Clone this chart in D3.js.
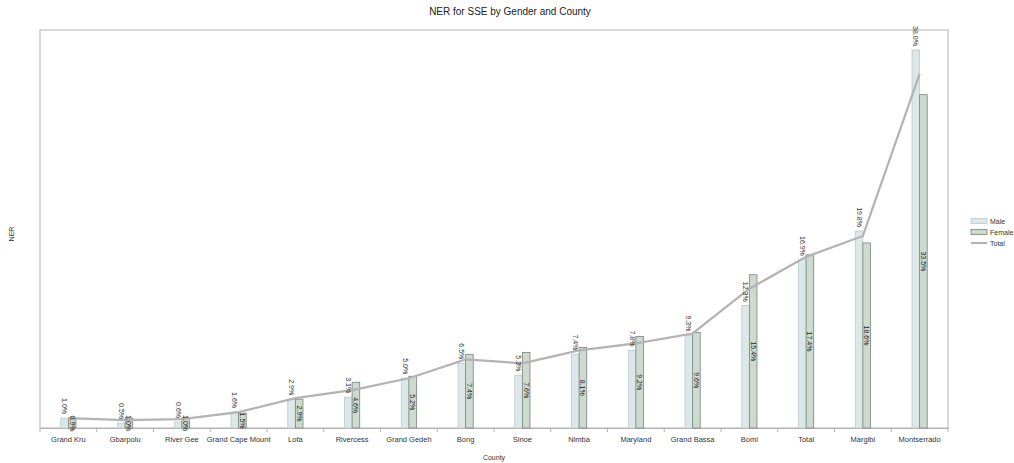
<!DOCTYPE html>
<html><head><meta charset="utf-8">
<script src="https://cdn.jsdelivr.net/npm/d3@7"></script>
<style>body{margin:0;background:#fff}svg{display:block;font-family:"Liberation Sans",Arial,sans-serif}</style>
</head><body><svg id="c" width="1014" height="463"></svg>
<script>
const counties = ["Grand Kru","Gbarpolu","River Gee","Grand Cape Mount","Lofa","Rivercess","Grand Gedeh","Bong","Sinoe","Nimba","Maryland","Grand Bassa","Bomi","Total","Margibi","Montserrado"];
const male   = [1.0,0.5,0.6,1.6,2.9,3.1,5.0,6.5,5.3,7.4,7.8,9.3,12.3,16.9,19.8,38.0];
const female = [0.9,1.0,1.0,1.5,2.9,4.6,5.2,7.4,7.6,8.1,9.2,9.6,15.4,17.4,18.6,33.5];
const total  = [1.0,0.8,0.9,1.6,3.0,3.8,5.0,6.9,6.5,7.8,8.5,9.5,14.0,17.2,19.3,35.6];
const seriesNames = ["Male","Female","Total"];
const yMax = 40;

const svg = d3.select("#c");
const L=40, R=948, T=30, B=428;
const x = d3.scaleBand().domain(counties).range([L,R]).paddingInner(0).paddingOuter(0);
const y = d3.scaleLinear().domain([0,yMax]).range([B,T]);
const bw = 7.6;
const fmt = v => v.toFixed(1)+"%";

// frame
svg.append("rect").attr("x",L).attr("y",T).attr("width",R-L).attr("height",B-T)
  .attr("fill","none").attr("stroke","#b3b3b3").attr("stroke-width",1);

// x axis
const ax = svg.append("g").attr("transform",`translate(0,${B})`)
  .call(d3.axisBottom(x).tickSize(0).tickPadding(9));
ax.select(".domain").attr("stroke","#b3b3b3");
ax.selectAll("text").attr("font-size","7.5px").attr("fill","#333").attr("font-family","Liberation Sans, Arial, sans-serif");
// boundary ticks
const bounds = counties.map((c,i)=>x(c)).concat([R]);
svg.append("g").selectAll("line").data(bounds).join("line")
  .attr("x1",d=>d).attr("x2",d=>d).attr("y1",B).attr("y2",B+4)
  .attr("stroke","#b3b3b3");

const cx = c => x(c)+x.bandwidth()/2;

// male bars
svg.append("g").selectAll("rect").data(counties).join("rect")
  .attr("x",c=>cx(c)-bw).attr("y",(c,i)=>y(male[i]))
  .attr("width",bw).attr("height",(c,i)=>B-y(male[i]))
  .attr("fill","#dce7ea").attr("stroke","#b9cbcf").attr("stroke-width",0.8);
// female bars
svg.append("g").selectAll("rect").data(counties).join("rect")
  .attr("x",c=>cx(c)).attr("y",(c,i)=>y(female[i]))
  .attr("width",bw).attr("height",(c,i)=>B-y(female[i]))
  .attr("fill","#cfdacf").attr("stroke","#75857a").attr("stroke-width",0.8);

// total line
const line = d3.line().x((d,i)=>cx(counties[i])).y(d=>y(d));
svg.append("path").datum(total).attr("d",line)
  .attr("fill","none").attr("stroke","#b3b3b3").attr("stroke-width",2.2);

// male labels above bars
svg.append("g").selectAll("text").data(counties).join("text")
  .attr("transform",(c,i)=>`translate(${cx(c)-bw/2},${y(male[i])-4}) rotate(90)`)
  .attr("text-anchor","end").attr("dominant-baseline","central")
  .attr("font-size","7px").attr("fill","#333")
  .text((c,i)=>fmt(male[i]));
// female labels centered in bars
svg.append("g").selectAll("text").data(counties).join("text")
  .attr("transform",(c,i)=>`translate(${cx(c)+bw/2},${(y(female[i])+B)/2}) rotate(90)`)
  .attr("text-anchor","middle").attr("dominant-baseline","central")
  .attr("font-size","7px").attr("fill","#222")
  .text((c,i)=>fmt(female[i]));

// titles
svg.append("text").attr("x",510).attr("y",15).attr("text-anchor","middle")
  .attr("font-size","10px").attr("fill","#222").text("NER for SSE by Gender and County");
svg.append("text").attr("x",(L+R)/2).attr("y",460).attr("text-anchor","middle")
  .attr("font-size","7px").attr("fill","#333").text("County");
svg.append("text").attr("transform","translate(14,234) rotate(-90)").attr("text-anchor","middle")
  .attr("font-size","7px").attr("fill","#333").text("NER");

// legend
const lg = svg.append("g").attr("transform","translate(971,0)");
const ly = [221,232,243];
lg.append("rect").attr("x",0).attr("y",ly[0]-2.5).attr("width",16).attr("height",5)
  .attr("fill","#dce7ea").attr("stroke","#b9cbcf").attr("stroke-width",0.8);
lg.append("rect").attr("x",0).attr("y",ly[1]-2.5).attr("width",16).attr("height",5)
  .attr("fill","#cfdacf").attr("stroke","#75857a").attr("stroke-width",0.8);
lg.append("line").attr("x1",0).attr("x2",16).attr("y1",ly[2]).attr("y2",ly[2])
  .attr("stroke","#b3b3b3").attr("stroke-width",2.2);
lg.selectAll("text.l").data(seriesNames).join("text").attr("class","l")
  .attr("x",19).attr("y",(d,i)=>ly[i]).attr("dominant-baseline","central")
  .attr("font-size","7px").attr("fill","#333").text(d=>d);
</script></body></html>
